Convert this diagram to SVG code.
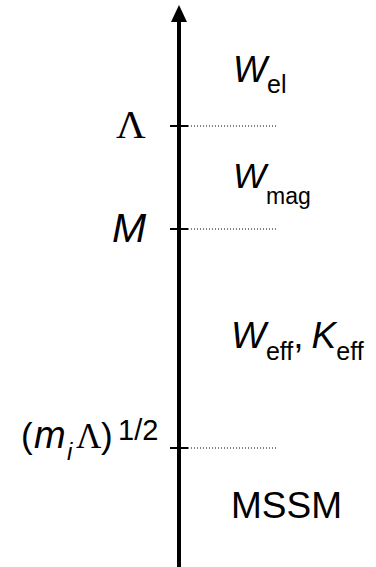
<svg xmlns="http://www.w3.org/2000/svg" width="376" height="567" viewBox="0 0 376 567">
<style>
.s{font-family:"Liberation Sans",Arial,sans-serif;fill:#000}
.i{font-style:italic}
.r{font-family:"Liberation Serif","Times New Roman",serif;fill:#000}
.tick{stroke:#000;stroke-width:2}
.dot{stroke:#000;stroke-width:1;stroke-dasharray:1 2}
</style>
<rect width="376" height="567" fill="#fff"/>
<g id="connectors">
<line x1="179" y1="20" x2="179" y2="567" stroke="#000" stroke-width="4"/>
<polygon points="179,5 171,22 187,22" fill="#000"/>
<line class="tick" x1="170" y1="126" x2="188" y2="126"/>
<line class="dot" x1="188" y1="126" x2="276" y2="126"/>
<line class="tick" x1="170" y1="229" x2="188" y2="229"/>
<line class="dot" x1="188" y1="229" x2="276" y2="229"/>
<line class="tick" x1="170" y1="448" x2="188" y2="448"/>
<line class="dot" x1="188" y1="448" x2="276" y2="448"/>
</g>
<g id="lambda"><text class="r" x="116" y="138" font-size="41">Λ</text></g>
<g id="M"><text class="s i" x="112" y="242" font-size="41">M</text></g>
<g id="scale"><text x="21" y="448"><tspan class="s" font-size="35">(</tspan><tspan class="s i" x="34" font-size="38">m</tspan><tspan class="s i" x="67" y="460" font-size="24">i</tspan><tspan class="r" x="76" y="448" font-size="35">Λ</tspan><tspan class="s" x="101" font-size="35">)</tspan><tspan class="s" x="118" y="440" font-size="29">1/2</tspan></text></g>
<g id="Wel"><text x="233" y="82"><tspan class="s i" font-size="36">W</tspan><tspan class="s" y="93" font-size="25">el</tspan></text></g>
<g id="Wmag"><text x="233" y="188"><tspan class="s i" font-size="35">W</tspan><tspan class="s" y="204" font-size="23">mag</tspan></text></g>
<g id="Weff"><text x="231" y="348"><tspan class="s i" font-size="37">W</tspan><tspan class="s" y="360" font-size="25">eff</tspan><tspan class="s" y="348" font-size="37">,</tspan><tspan class="s i" dx="8" font-size="37">K</tspan><tspan class="s" y="360" font-size="25">eff</tspan></text></g>
<g id="MSSM"><text class="s" x="231" y="518" font-size="37">MSSM</text></g>
</svg>
